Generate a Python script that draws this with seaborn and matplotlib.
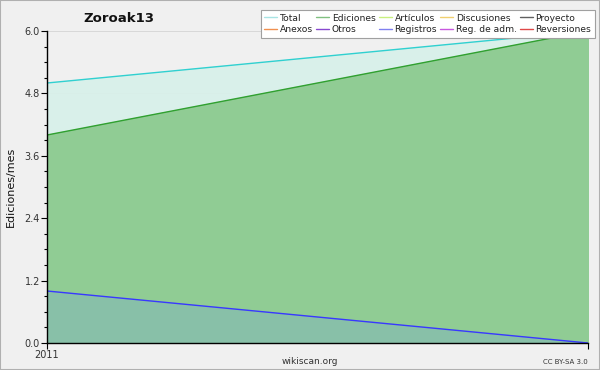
import matplotlib
matplotlib.use("Agg")
import matplotlib.pyplot as plt
import seaborn as sns
import pandas as pd
from matplotlib.lines import Line2D
from matplotlib.patches import Rectangle

x_pos = [0, 1]
x_labels = ["2011", ""]
total = [5.0, 6.0]
ediciones = [4.0, 6.0]
registros = [1.0, 0.0]

legend_labels = ["Total", "Ediciones", "Artículos", "Discusiones", "Proyecto",
                 "Anexos", "Otros", "Registros", "Reg. de adm.", "Reversiones"]
legend_colors = ["#a8e4e4", "#80c080", "#c8f080", "#f0d070", "#606060",
                 "#f09050", "#8848d0", "#8080f0", "#c858e0", "#e04848"]

df = pd.DataFrame({"x": x_pos, "total": total, "ediciones": ediciones, "registros": registros})

sns.set_theme(style="white")
plt.rcParams['font.family'] = ['DejaVu Sans']

fig = plt.figure(figsize=(6.0, 3.7), dpi=100, facecolor="#f0f0f0")
fig.patches.append(Rectangle((0, 0), 1, 1, transform=fig.transFigure, fill=False,
                             edgecolor="#b0b0b0", linewidth=1.5))
ax = fig.add_axes([47/600, 27/370, 541/600, 312/370])
ax.set_facecolor("#f0f0f0")

ax.fill_between(df["x"], 0, df["total"], color="#d8f0ea", alpha=0.92, zorder=1)
ax.fill_between(df["x"], 0, df["ediciones"], color="#90cc94", zorder=2)
ax.fill_between(df["x"], 0, df["registros"], color="#88c0a8", zorder=3)
sns.lineplot(data=df, x="x", y="total", color="#30d0d0", lw=1, ax=ax, zorder=4)
sns.lineplot(data=df, x="x", y="ediciones", color="#30a030", lw=1, ax=ax, zorder=4)
sns.lineplot(data=df, x="x", y="registros", color="#3838ff", lw=1, ax=ax, zorder=4)

ax.set_xlim(0, 1)
ax.set_ylim(0, 6.0)
ax.set_yticks([0, 1.2, 2.4, 3.6, 4.8, 6.0])
ax.set_yticklabels(["0.0", "1.2", "2.4", "3.6", "4.8", "6.0"])
ax.set_yticks([i * 0.3 for i in range(21)], minor=True)
ax.set_xticks(x_pos)
ax.set_xticklabels(x_labels)
ax.tick_params(axis="both", which="major", labelsize=7, length=4, width=0.8,
               color="black", labelcolor="#333333", pad=1, direction="out",
               left=True, bottom=True)
ax.tick_params(axis="y", which="minor", length=2.5, width=0.8, color="black", left=True)
ax.grid(axis="y", which="major", color="#d4d4d4", lw=0.6, zorder=0)
ax.set_axisbelow(True)
for s in ["top", "right"]:
    ax.spines[s].set_visible(False)
for s in ["left", "bottom"]:
    ax.spines[s].set_color("black")
    ax.spines[s].set_linewidth(1)
    ax.spines[s].set_zorder(5)
ax.set_xlabel("")
ax.set_ylabel("Ediciones/mes", fontsize=8, color="#111111", labelpad=6)

fig.text(119/600, 1 - 18/370, "Zoroak13", fontsize=9.5, fontweight="bold",
         ha="center", va="center", color="#111111")
fig.text(310/600, 1 - 361/370, "wikiscan.org", fontsize=6.5, ha="center",
         va="center", color="#333333")
fig.text(588/600, 1 - 362/370, "CC BY-SA 3.0", fontsize=5, ha="right",
         va="center", color="#333333")

order = [0, 5, 1, 6, 2, 7, 3, 8, 4, 9]
handles = [Line2D([], [], color=legend_colors[i], lw=1) for i in order]
labels = [legend_labels[i] for i in order]
leg = fig.legend(handles, labels, ncol=5, loc="upper right",
                 bbox_to_anchor=(595/600, 1 - 10/370), fontsize=6.6,
                 frameon=True, fancybox=False, edgecolor="#a0a0a0",
                 facecolor="white", framealpha=1, handlelength=1.4,
                 handletextpad=0.3, columnspacing=0.35, labelspacing=0.25,
                 borderpad=0.4, borderaxespad=0)
leg.get_frame().set_linewidth(0.8)
for t in leg.get_texts():
    t.set_color("#222222")

fig.savefig("out.png", dpi=100, facecolor=fig.get_facecolor())
